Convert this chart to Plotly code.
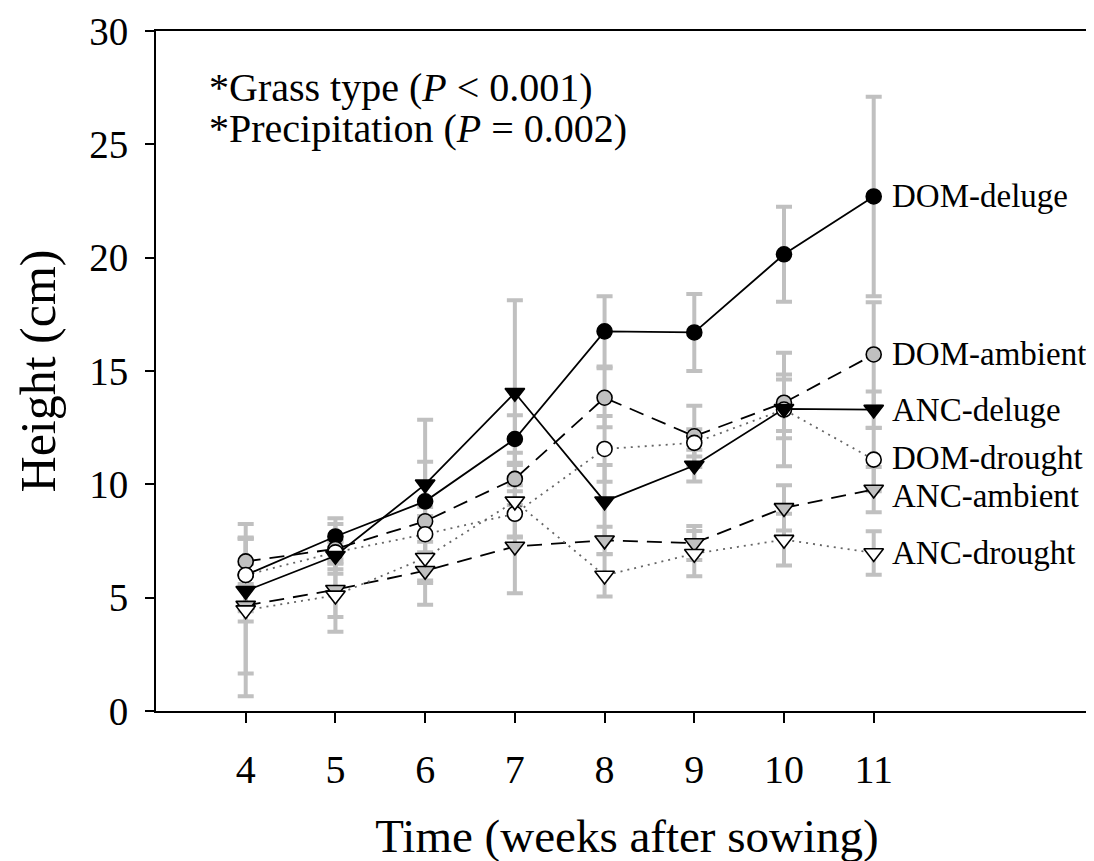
import plotly.graph_objects as go

weeks = [4, 5, 6, 7, 8, 9, 10, 11]

dom_deluge = [6.0, 7.7, 9.25, 12.0, 16.75, 16.7, 20.15, 22.7]
dom_deluge_err = [0.5, 0.8, 3.6, 1.05, 1.55, 1.7, 2.1, 4.4]

dom_ambient = [6.6, 7.15, 8.37, 10.24, 13.82, 12.12, 13.6, 15.73]
dom_ambient_err = [1.0, 1.1, 0.9, 1.15, 1.3, 1.35, 1.25, 2.3]

dom_drought = [6.0, 7.0, 7.8, 8.7, 11.56, 11.83, 13.3, 11.09]
dom_drought_err = [1.6, 0.5, 0.8, 1.0, 1.45, 0.6, 2.5, 1.4]

anc_deluge = [5.3, 6.85, 10.0, 14.04, 9.25, 10.83, 13.33, 13.3]
anc_deluge_err = [1.35, 0.6, 1.0, 4.08, 1.6, 0.7, 1.3, 0.8]

anc_ambient = [4.65, 5.35, 6.19, 7.26, 7.53, 7.41, 8.96, 9.77]
anc_ambient_err = [3.0, 1.2, 1.5, 2.06, 0.6, 0.75, 1.0, 1.0]

anc_drought = [4.45, 5.1, 6.76, 9.25, 5.98, 6.94, 7.56, 6.97]
anc_drought_err = [3.8, 1.6, 1.0, 1.6, 0.93, 1.0, 1.14, 0.96]

annotation_lines = ["*Grass type (<i>P</i> &lt; 0.001)", "*Precipitation (<i>P</i> = 0.002)"]

# drawing order: later entries are drawn on top
series = [
    ("DOM-deluge", dom_deluge, dom_deluge_err, "circle", "black", "solid", "black", 0),
    ("DOM-ambient", dom_ambient, dom_ambient_err, "circle", "#c0c0c0", "15px,9px", "black", 0),
    ("DOM-drought", dom_drought, dom_drought_err, "circle", "white", "2px,5px", "#666666", 2),
    ("ANC-ambient", anc_ambient, anc_ambient_err, "triangle-down", "#c0c0c0", "15px,9px", "black", -6),
    ("ANC-drought", anc_drought, anc_drought_err, "triangle-down", "white", "2px,5px", "#666666", 0),
    ("ANC-deluge", anc_deluge, anc_deluge_err, "triangle-down", "black", "solid", "black", 0),
]

FONT = "Liberation Serif, Times New Roman, serif"

fig = go.Figure()

# error bars first (behind everything)
for name, ys, errs, sym, fill, dash, lcol, lshift in series:
    fig.add_trace(go.Scatter(
        x=weeks, y=ys, mode="markers",
        marker=dict(size=1, color="rgba(0,0,0,0)"),
        error_y=dict(type="data", array=errs, visible=True,
                     color="#c0c0c0", thickness=4, width=8),
        showlegend=False, hoverinfo="skip",
    ))

# lines
for name, ys, errs, sym, fill, dash, lcol, lshift in series:
    fig.add_trace(go.Scatter(
        x=weeks, y=ys, mode="lines",
        line=dict(color=lcol, width=1.8, dash=dash),
        showlegend=False, hoverinfo="skip",
    ))

# markers + end labels
for name, ys, errs, sym, fill, dash, lcol, lshift in series:
    size = 15 if sym == "circle" else 17
    fig.add_trace(go.Scatter(
        x=weeks, y=ys, mode="markers", name=name,
        marker=dict(symbol=sym, size=size, color=fill,
                    line=dict(color="black", width=1.6)),
        showlegend=False,
    ))
    fig.add_annotation(x=11.19, y=ys[-1], text=name, showarrow=False,
                       xanchor="left", yanchor="middle", yshift=lshift,
                       borderpad=0,
                       font=dict(family=FONT, size=33, color="black"))

for i, line in enumerate(annotation_lines):
    fig.add_annotation(
        x=3.58, y=27.5 - 1.78 * i, xanchor="left", yanchor="middle",
        showarrow=False, align="left", text=line, borderpad=0,
        font=dict(family=FONT, size=40, color="black"),
    )

fig.update_layout(
    width=1094, height=861,
    margin=dict(l=148, r=2, t=22, b=158),
    plot_bgcolor="white", paper_bgcolor="white",
    font=dict(family=FONT, color="black"),
)
fig.update_xaxes(
    range=[3, 13.5], tickvals=weeks, ticktext=[str(w) for w in weeks],
    ticks="outside", ticklen=10, tickwidth=2, tickcolor="black",
    showline=True, linecolor="black", linewidth=2, mirror=True,
    showgrid=False, zeroline=False, ticklabelstandoff=12,
    tickfont=dict(family=FONT, size=40),
    title=dict(text="Time (weeks after sowing)", font=dict(family=FONT, size=47), standoff=28),
)
fig.update_yaxes(
    range=[0, 30], tickvals=[0, 5, 10, 15, 20, 25, 30],
    ticks="outside", ticklen=9, tickwidth=2, tickcolor="black",
    showline=True, linecolor="black", linewidth=2, mirror=True,
    showgrid=False, zeroline=False, ticklabelstandoff=9,
    tickfont=dict(family=FONT, size=39),
    title=dict(text="Height (cm)", font=dict(family=FONT, size=50), standoff=18),
)

fig.write_html("out.html")
